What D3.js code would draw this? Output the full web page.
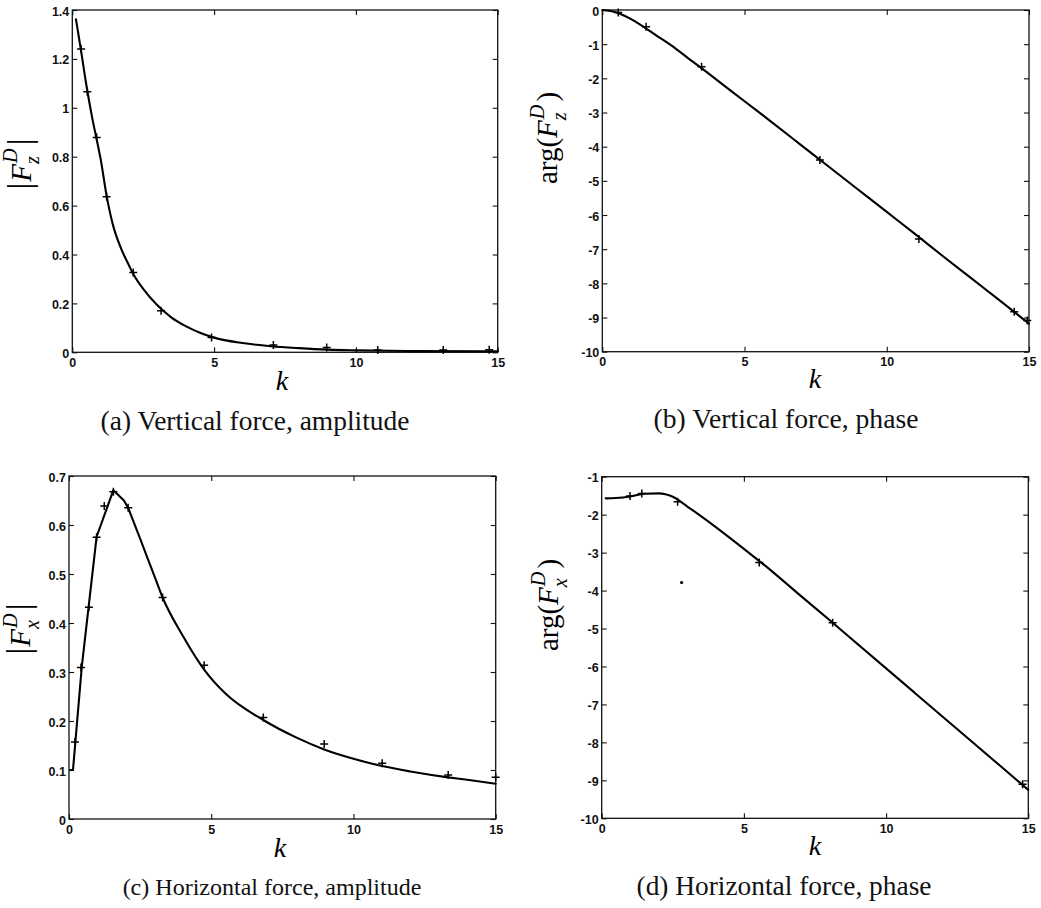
<!DOCTYPE html>
<html>
<head>
<meta charset="utf-8">
<script src="https://cdn.jsdelivr.net/npm/d3@7"></script>
<style>
  html, body { margin: 0; padding: 0; background: #fff; }
  svg { display: block; }
</style>
</head>
<body>
<svg id="chart" width="1041" height="908"></svg>
<script>
// ---------------- DATA ----------------
const xTicks = [0, 5, 10, 15];
const xTickLabels = ["0", "5", "10", "15"];

// (a) vertical force amplitude
const aTicks = [0, 0.2, 0.4, 0.6, 0.8, 1, 1.2, 1.4];
const aTickLabels = ["0", "0.2", "0.4", "0.6", "0.8", "1", "1.2", "1.4"];
const aLineK = [0.13, 0.3, 0.5, 0.7, 0.86, 1.0, 1.21, 1.45, 1.7, 2.0, 2.15, 2.5, 3.0, 3.5, 4.0, 4.5, 5.0, 6.0, 7.0, 8.0, 9.0, 10.0, 12.0, 15.0];
const aLineV = [1.362, 1.24, 1.09, 0.96, 0.87, 0.79, 0.64, 0.514, 0.43, 0.355, 0.32, 0.259, 0.192, 0.142, 0.107, 0.080, 0.060, 0.038, 0.025, 0.017, 0.011, 0.008, 0.005, 0.004];
const aMarkK = [0.31, 0.53, 0.86, 1.21, 2.15, 3.13, 4.91, 7.09, 8.97, 10.77, 13.08, 14.70];
const aMarkV = [1.24, 1.066, 0.879, 0.636, 0.326, 0.170, 0.061, 0.030, 0.020, 0.009, 0.009, 0.010];

// (b) vertical force phase
const bTicks = [0, -1, -2, -3, -4, -5, -6, -7, -8, -9, -10];
const bTickLabels = ["0", "-1", "-2", "-3", "-4", "-5", "-6", "-7", "-8", "-9", "-10"];
const bLineK = [0, 0.5, 1, 1.5, 2, 2.5, 3, 3.5, 4, 5, 6, 7, 8, 9, 10, 11, 12, 13, 14, 15];
const bLineV = [0, -0.07, -0.26, -0.52, -0.80, -1.08, -1.40, -1.71, -2.03, -2.67, -3.31, -3.96, -4.61, -5.26, -5.91, -6.56, -7.22, -7.87, -8.52, -9.18];
const bMarkK = [0.56, 1.54, 3.49, 7.65, 11.13, 14.48, 14.94];
const bMarkV = [-0.07, -0.49, -1.66, -4.39, -6.70, -8.83, -9.09];

// (c) horizontal force amplitude (first part drawn straight, rest smooth)
const cTicks = [0, 0.1, 0.2, 0.3, 0.4, 0.5, 0.6, 0.7];
const cTickLabels = ["0", "0.1", "0.2", "0.3", "0.4", "0.5", "0.6", "0.7"];
const cLineK = [0.05, 0.14, 0.45, 0.97, 1.56, 1.93, 2.08, 2.5, 3.0, 3.29, 4.0, 4.75, 5.5, 6.83, 8.0, 8.97, 10.0, 11.01, 12.0, 13.33, 14.0, 15.0];
const cLineV = [0.100, 0.100, 0.311, 0.576, 0.671, 0.650, 0.635, 0.572, 0.496, 0.452, 0.374, 0.305, 0.256, 0.202, 0.166, 0.142, 0.123, 0.108, 0.097, 0.085, 0.080, 0.072];
const cStraightUntil = 6; // index of the last point of the straight-segment part
const cMarkK = [0.21, 0.42, 0.70, 0.97, 1.24, 1.56, 2.08, 3.29, 4.75, 6.83, 8.97, 11.01, 13.33, 15.0];
const cMarkV = [0.157, 0.309, 0.432, 0.575, 0.639, 0.668, 0.635, 0.452, 0.314, 0.207, 0.153, 0.114, 0.090, 0.085];

// (d) horizontal force phase
const dTicks = [-1, -2, -3, -4, -5, -6, -7, -8, -9, -10];
const dTickLabels = ["-1", "-2", "-3", "-4", "-5", "-6", "-7", "-8", "-9", "-10"];
const dLineK = [0.14, 0.5, 1, 1.5, 2, 2.5, 3, 4, 5, 6, 7, 8, 9, 10, 11, 12, 13, 14, 15];
const dLineV = [-1.57, -1.56, -1.52, -1.45, -1.44, -1.53, -1.78, -2.32, -2.90, -3.50, -4.14, -4.77, -5.41, -6.05, -6.69, -7.33, -7.97, -8.61, -9.25];
const dMarkK = [0.995, 1.41, 2.67, 5.54, 8.12, 14.80];
const dMarkV = [-1.51, -1.44, -1.66, -3.26, -4.85, -9.10];
const dOutlierK = [2.81];
const dOutlierV = [-3.79];

const captions = ["(a) Vertical force, amplitude", "(b) Vertical force, phase", "(c) Horizontal force, amplitude", "(d) Horizontal force, phase"];

// ---------------- LAYOUT ----------------
const panels = [
  { box: [72.3, 497.7, 10, 352.3], yDom: [0, 1.4], yT: aTicks, yL: aTickLabels,
    lineK: aLineK, lineV: aLineV, markK: aMarkK, markV: aMarkV,
    ylab: { x: 30.5, y: 164, kind: "abs", sub: "z" }, xlab: [282, 390], cap: [255, 430, 309], caption: captions[0] },
  { box: [602.3, 1029, 10, 351.7], yDom: [-10, 0], yT: bTicks, yL: bTickLabels,
    lineK: bLineK, lineV: bLineV, markK: bMarkK, markV: bMarkV,
    ylab: { x: 557, y: 138, kind: "arg", sub: "z" }, xlab: [815, 388], cap: [786, 428, 265], caption: captions[1] },
  { box: [69, 495.7, 476, 819], yDom: [0, 0.7], yT: cTicks, yL: cTickLabels,
    lineK: cLineK, lineV: cLineV, markK: cMarkK, markV: cMarkV, straightUntil: cStraightUntil,
    ylab: { x: 30, y: 629, kind: "abs", sub: "x" }, xlab: [280, 857], cap: [272, 895, 299], caption: captions[2] },
  { box: [601.7, 1028.3, 476.7, 818.3], yDom: [-10, -1], yT: dTicks, yL: dTickLabels,
    lineK: dLineK, lineV: dLineV, markK: dMarkK, markV: dMarkV, outK: dOutlierK, outV: dOutlierV,
    ylab: { x: 558, y: 605, kind: "arg", sub: "x" }, xlab: [815, 855], cap: [784, 895, 295], caption: captions[3] }
];

const svg = d3.select("#chart");
const SERIF = "'Liberation Serif', 'Times New Roman', serif";
const SANS = "'Liberation Sans', Arial, Helvetica, sans-serif";
const TICK = 5;

function plus(s) { return `M${-s},0H${s}M0,${-s}V${s}`; }

function mathLabel(g, pieces, fs) {
  let cursor = 0;
  const t = g.append("g");
  pieces.forEach(p => {
    if (p.stack) {
      const sup = t.append("text").attr("x", cursor + 1).attr("y", -0.45 * fs)
        .attr("font-family", SERIF).attr("font-style", "italic").attr("font-size", 0.7 * fs).text(p.sup);
      const sub = t.append("text").attr("x", cursor).attr("y", 0.3 * fs)
        .attr("font-family", SERIF).attr("font-style", "italic").attr("font-size", 0.7 * fs).text(p.sub);
      cursor += Math.max(sup.node().getComputedTextLength() + 1, sub.node().getComputedTextLength()) + 3;
    } else {
      const el = t.append("text").attr("x", cursor).attr("y", 0)
        .attr("font-family", SERIF).attr("font-style", p.italic ? "italic" : "normal")
        .attr("font-size", fs * (p.scale || 1)).text(p.t);
      cursor += el.node().getComputedTextLength() + (p.after || 0);
    }
  });
  t.attr("transform", `translate(${-cursor / 2},0)`);
}

panels.forEach(P => {
  const [x0, x1, y0, y1] = P.box;
  const x = d3.scaleLinear().domain([0, 15]).range([x0, x1]);
  const y = d3.scaleLinear().domain(P.yDom).range([y1, y0]);
  const g = svg.append("g");

  // axes with inward ticks on all four sides
  const bottom = g.append("g").attr("transform", `translate(0,${y1})`)
    .call(d3.axisBottom(x).tickValues(xTicks).tickSize(-TICK).tickPadding(5)
      .tickFormat((d, i) => xTickLabels[i]));
  const top = g.append("g").attr("transform", `translate(0,${y0})`)
    .call(d3.axisTop(x).tickValues(xTicks).tickSize(-TICK).tickFormat(""));
  const left = g.append("g").attr("transform", `translate(${x0},0)`)
    .call(d3.axisLeft(y).tickValues(P.yT).tickSize(-TICK).tickPadding(3)
      .tickFormat((d, i) => P.yL[i]));
  const right = g.append("g").attr("transform", `translate(${x1},0)`)
    .call(d3.axisRight(y).tickValues(P.yT).tickSize(-TICK).tickFormat(""));
  [bottom, top, left, right].forEach(a => {
    a.select(".domain").remove();
    a.selectAll(".tick line").attr("stroke", "#111").attr("stroke-width", 1.1);
    a.selectAll("text").attr("font-family", SANS).attr("font-weight", "bold")
      .attr("font-size", 12.5).attr("fill", "#111");
  });
  left.selectAll("text").attr("dy", "0.4em");
  bottom.selectAll("text").attr("dy", "0.78em");

  g.append("rect").attr("x", x0).attr("y", y0).attr("width", x1 - x0).attr("height", y1 - y0)
    .attr("fill", "none").attr("stroke", "#111").attr("stroke-width", 1.3);

  // line
  const lineData = P.lineK.map((k, i) => [k, P.lineV[i]]);
  const lineGen = d3.line().x(d => x(d[0])).y(d => y(d[1]));
  const segs = P.straightUntil != null
    ? [[lineData.slice(0, P.straightUntil + 1), d3.curveLinear], [lineData.slice(P.straightUntil), d3.curveMonotoneX]]
    : [[lineData, d3.curveMonotoneX]];
  segs.forEach(([data, curve]) => {
    g.append("path").datum(data)
      .attr("d", lineGen.curve(curve))
      .attr("fill", "none").attr("stroke", "#000").attr("stroke-width", 2.1)
      .attr("stroke-linejoin", "round").attr("stroke-linecap", "round");
  });

  // markers
  const markData = P.markK.map((k, i) => [k, P.markV[i]]);
  g.selectAll(".mk").data(markData).enter().append("path")
    .attr("transform", d => `translate(${x(d[0])},${y(d[1])})`)
    .attr("d", plus(4)).attr("stroke", "#000").attr("stroke-width", 1.5).attr("fill", "none");
  if (P.outK) {
    const od = P.outK.map((k, i) => [k, P.outV[i]]);
    g.selectAll(".od").data(od).enter().append("path")
      .attr("transform", d => `translate(${x(d[0])},${y(d[1])})`)
      .attr("d", plus(1.5)).attr("stroke", "#000").attr("stroke-width", 1.8).attr("fill", "none");
  }

  // y label
  const yl = g.append("g").attr("transform", `translate(${P.ylab.x},${P.ylab.y}) rotate(-90)`);
  const fs = 29;
  const pieces = P.ylab.kind === "abs"
    ? [{ t: "|", after: 1, scale: 1.15 }, { t: "F", italic: true }, { stack: true, sup: "D", sub: P.ylab.sub }, { t: "|", scale: 1.15 }]
    : [{ t: "arg(" }, { t: "F", italic: true }, { stack: true, sup: "D", sub: P.ylab.sub }, { t: ")" }];
  mathLabel(yl, pieces, fs);

  // x label
  g.append("text").attr("x", P.xlab[0]).attr("y", P.xlab[1]).attr("text-anchor", "middle")
    .attr("font-family", SERIF).attr("font-style", "italic").attr("font-size", 28).text("k");

  // caption (fit font size to target width)
  const cap = g.append("text").attr("x", P.cap[0]).attr("y", P.cap[1]).attr("text-anchor", "middle")
    .attr("font-family", SERIF).attr("font-size", 27).attr("fill", "#111").text(P.caption);
  const w = cap.node().getComputedTextLength();
  cap.attr("font-size", 27 * P.cap[2] / w);
});
</script>
</body>
</html>
